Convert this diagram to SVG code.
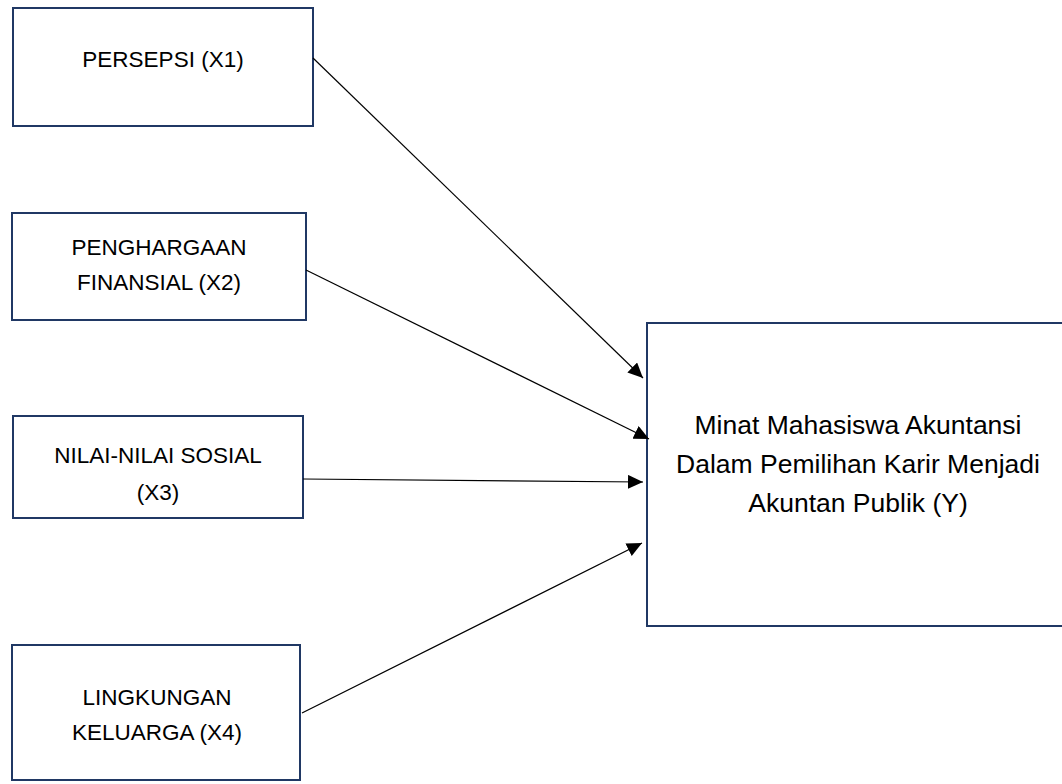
<svg xmlns="http://www.w3.org/2000/svg" width="1062" height="784" viewBox="0 0 1062 784">
<style>
.box{fill:#fff;stroke:#203864;stroke-width:2}
.t{font-family:"Liberation Sans",Arial,sans-serif;font-size:22.5px;fill:#000;text-anchor:middle}
.ty{font-family:"Liberation Sans",Arial,sans-serif;font-size:26.5px;fill:#000;text-anchor:middle}
.c{stroke:#000;stroke-width:1.2;fill:none;marker-end:url(#ah)}
</style>
<defs>
<marker id="ah" markerUnits="userSpaceOnUse" markerWidth="16" markerHeight="16" refX="15" refY="7" orient="auto">
<path d="M0,0 L15,7 L0,14 Z" fill="#000"/>
</marker>
</defs>
<rect width="1062" height="784" fill="#fff"/>
<g id="node-x1"><rect class="box" x="13" y="8" width="300" height="118"/><text class="t" x="163" y="67">PERSEPSI (X1)</text></g>
<g id="node-x2"><rect class="box" x="12" y="213" width="294" height="107"/><text class="t" x="159" y="255">PENGHARGAAN</text><text class="t" x="159" y="290">FINANSIAL (X2)</text></g>
<g id="node-x3"><rect class="box" x="13" y="416" width="290" height="102"/><text class="t" x="158" y="463">NILAI-NILAI SOSIAL</text><text class="t" x="158" y="500">(X3)</text></g>
<g id="node-x4"><rect class="box" x="12" y="645" width="288" height="135"/><text class="t" x="157" y="705">LINGKUNGAN</text><text class="t" x="157" y="740">KELUARGA (X4)</text></g>
<g id="node-y"><rect class="box" x="647" y="323" width="420" height="303"/><text class="ty" x="858" y="434">Minat Mahasiswa Akuntansi</text><text class="ty" x="858" y="473">Dalam Pemilihan Karir Menjadi</text><text class="ty" x="858" y="512">Akuntan Publik (Y)</text></g>
<g id="connectors">
<line class="c" x1="313" y1="58" x2="643" y2="378"/>
<line class="c" x1="306" y1="270" x2="649" y2="439"/>
<line class="c" x1="303" y1="479" x2="643" y2="482"/>
<line class="c" x1="302" y1="713" x2="642" y2="543"/>
</g>
</svg>
